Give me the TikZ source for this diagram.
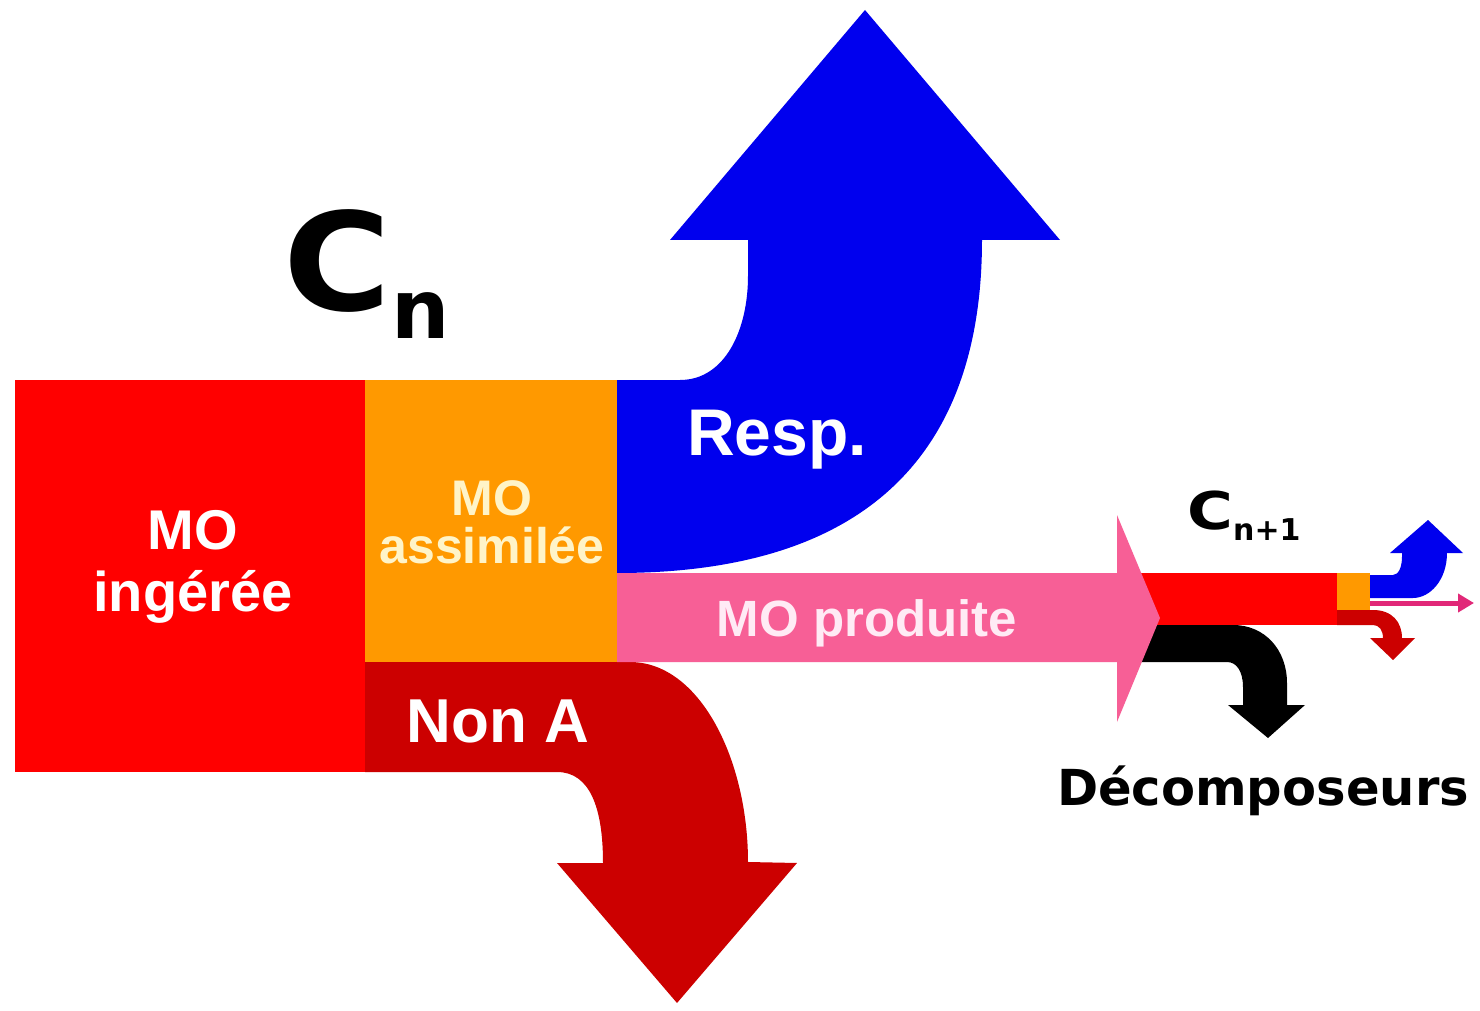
\documentclass[tikz,border=0pt]{standalone}
\usepackage{fontspec}
\setmainfont{Liberation Sans}
\newfontfamily\dejavu{DejaVu Sans}
\usetikzlibrary{arrows.meta}

\definecolor{ingcol}{RGB}{255,0,0}
\definecolor{asscol}{RGB}{255,153,0}
\definecolor{respcol}{RGB}{0,0,238}
\definecolor{nonacol}{RGB}{204,0,0}
\definecolor{prodcol}{RGB}{247,95,150}
\definecolor{asstext}{RGB}{255,244,200}
\definecolor{prodtext}{RGB}{255,235,245}
\definecolor{smallpink}{RGB}{225,40,120}

\tikzset{
  lbl/.style={inner sep=0pt, align=center},
  flowtip/.style={-{Triangle[length=8pt,width=9pt]}, line width=2.5pt, smallpink}
}

\begin{document}
\begin{tikzpicture}[x=0.5pt,y=-0.5pt]
\useasboundingbox (0,0) rectangle (1480,1011);
\fill[white] (0,0) rectangle (1480,1011);

% Respiration (blue bent arrow)
\fill[respcol] (617,380) -- (680,380) .. controls (725,380) and (748,330) .. (748,276)
  -- (748,240) -- (670,240) -- (865,10) -- (1060,240) -- (982,240)
  .. controls (982,420) and (900,573) .. (617,573) -- cycle;

% Non assimilated matter (dark red bent arrow)
\fill[nonacol] (365,662) -- (630,662) .. controls (700,662) and (748,760) .. (748,862)
  -- (797,863) -- (677,1003) -- (557,863) -- (603,863)
  .. controls (603,808) and (590,772) .. (557,772) -- (365,772) -- cycle;

% Ingested and assimilated blocks
\fill[ingcol] (15,380) rectangle (365,772);
\fill[asscol] (365,380) rectangle (617,662);

% Next level: ingested bar and decomposers arrow
\fill[ingcol] (1130,573) rectangle (1337,625);
\fill[black] (1130,625) -- (1233,625) .. controls (1265,625) and (1287,650) .. (1287,683)
  -- (1287,705) -- (1305,705) -- (1268,738) -- (1228,705) -- (1243,705) -- (1243,687)
  .. controls (1243,672) and (1237,662) .. (1227,662) -- (1130,662) -- cycle;

% Produced matter (pink arrow)
\fill[prodcol] (617,573) -- (1117,573) -- (1117,515) -- (1160,618) -- (1117,722)
  -- (1117,662) -- (617,662) -- cycle;

% Next level: small assimilated block and its outputs
\fill[asscol] (1337,573) rectangle (1370,610);
\fill[nonacol] (1337,610) -- (1373,610) .. controls (1392,610) and (1402,622) .. (1402,638)
  -- (1415,638) -- (1393,660) -- (1370,638) -- (1383,638)
  .. controls (1383,630) and (1379,625) .. (1373,625) -- (1337,625) -- cycle;
\fill[respcol] (1370,575) -- (1393,575) .. controls (1399,575) and (1402,566) .. (1402,557)
  -- (1402,553) -- (1390,553) -- (1428,520) -- (1463,553) -- (1447,553)
  .. controls (1447,580) and (1430,598) .. (1413,598) -- (1370,598) -- cycle;
\coordinate (prodstart) at (1370,603);
\coordinate (prodend) at (1474,603);
\draw[flowtip] (prodstart) -- (prodend);

% Labels
\node[lbl, text=white, font=\bfseries\fontsize{28}{31}\selectfont] (ing) at (193,567) {MO\\ingérée};
\node[lbl, text=asstext, font=\bfseries\fontsize{25}{24}\selectfont] (ass) at (492,522) {MO\\assimilée};
\node[lbl, text=white, font=\bfseries\fontsize{33}{33}\selectfont] (resp) at (777,440) {Resp.};
\node[lbl, text=prodtext, font=\bfseries\fontsize{25.5}{25.5}\selectfont] (prod) at (867,623) {MO produite};
\node[lbl, text=white, font=\bfseries\fontsize{31}{31}\selectfont] (nona) at (498,721) {Non A};
\node[lbl, text=black, font=\dejavu\bfseries\fontsize{24.8}{24.8}\selectfont] (dec) at (1263,791) {Décomposeurs};

\node[anchor=base west, inner sep=0pt] (cn) at (283,310)
  {\dejavu\bfseries\fontsize{68}{68}\selectfont \scalebox{1.08}[1]{C}\lower14pt\hbox{\fontsize{41}{41}\selectfont n}};
\node[anchor=base west, inner sep=0pt] (cn1) at (1187,529)
  {\dejavu\bfseries\fontsize{26}{26}\selectfont \scalebox{1.2}[1]{C}\lower5.5pt\hbox{\fontsize{15}{15}\selectfont n+1}};
\end{tikzpicture}
\end{document}
